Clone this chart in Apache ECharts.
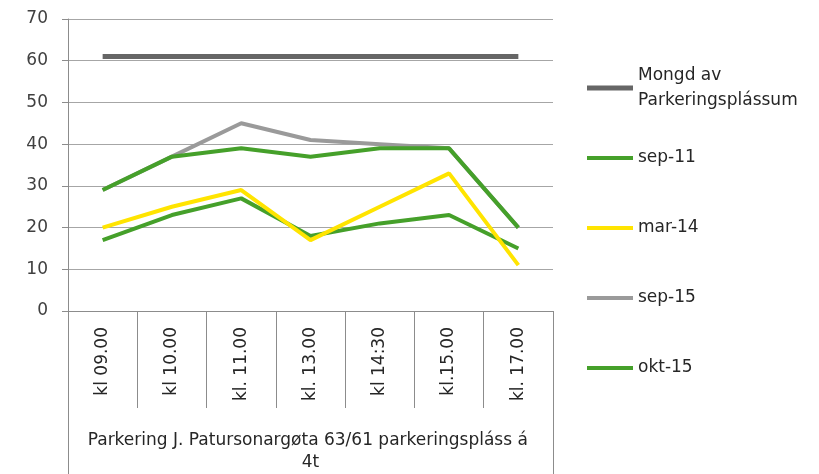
<!DOCTYPE html>
<html><head><meta charset="utf-8">
<script src="https://cdn.jsdelivr.net/npm/echarts@6/dist/echarts.min.js"></script>
<style>html,body{margin:0;padding:0;background:#fff}#c{width:819px;height:474px}</style>
</head><body><div id="c"></div>
<script>
var categories = ['kl 09.00','kl 10.00','kl. 11.00','kl. 13.00','kl 14:30','kl.15.00','kl. 17.00'];
var groupLabel = 'Parkering J. Patursonargøta 63/61 parkeringspláss á 4t';
var seriesNames = ['Mongd av\nParkeringsplássum','sep-11','mar-14','sep-15','okt-15'];
var mongd = [61,61,61,61,61,61,61];
var sep11 = [17,23,27,18,21,23,15];
var mar14 = [20,25,29,17,25,33,11];
var sep15 = [29,37,45,41,40,39,20];
var okt15 = [29,37,39,37,39,39,20];
var yTicks = [0,10,20,30,40,50,60,70];

var colors = ['#666666','#45a02a','#ffe400','#9a9a9a','#45a02a'];
var widths = [5,4,4,4,4];
var dataArr = [mongd,sep11,mar14,sep15,okt15];
var legendTops = [88,158,228,298,368];
var font = 'DejaVu Sans';
var fs = 17;

var series = seriesNames.map(function(n,i){
  return {name:n,type:'line',data:dataArr[i],symbol:'none',smooth:false,
    lineStyle:{color:colors[i],width:widths[i]},itemStyle:{color:colors[i]},z:2+i};
});
var legends = seriesNames.map(function(n,i){
  var two = n.indexOf('\n')>=0;
  return {data:[n],left:587,top: two ? legendTops[i]-37.5 : legendTops[i]-12.5,padding:0,
    icon:'rect',itemWidth:46,itemHeight:widths[i],selectedMode:false,
    textStyle:{fontFamily:font,fontSize:fs,color:'#262626',lineHeight:25,padding: two?[25,0,0,0]:0}};
});

var chart = echarts.init(document.getElementById('c'));
chart.setOption({
  animation:false,
  color:colors,
  legend:legends,
  grid:{left:68,right:266,top:19,bottom:163},
  xAxis:[{
    type:'category',data:categories,boundaryGap:true,position:'bottom',
    axisLine:{lineStyle:{color:'#8c8c8c',width:1}},
    axisTick:{show:true,interval:0,length:97,lineStyle:{color:'#8c8c8c'}},
    axisLabel:{interval:0,rotate:90,margin:16,fontFamily:font,fontSize:fs,color:'#262626'}
  },{
    type:'category',data:[groupLabel],boundaryGap:true,position:'bottom',offset:97,
    axisLine:{show:false},
    axisTick:{show:true,interval:0,length:70,lineStyle:{color:'#8c8c8c'}},
    axisLabel:{interval:0,margin:22,fontFamily:font,fontSize:fs,color:'#262626',lineHeight:22,
      width:484,overflow:'break'}
  }],
  yAxis:{type:'value',min:0,max:70,interval:10,
    axisLine:{show:true,lineStyle:{color:'#8c8c8c'}},
    axisTick:{show:true,length:6,lineStyle:{color:'#8c8c8c'}},
    splitLine:{lineStyle:{color:'#a6a6a6',width:1}},
    axisLabel:{margin:20,fontFamily:font,fontSize:fs,color:'#404040',
      formatter:function(v){return yTicks.indexOf(v)>=0?String(v):'';}}
  },
  series:series
});
</script></body></html>
